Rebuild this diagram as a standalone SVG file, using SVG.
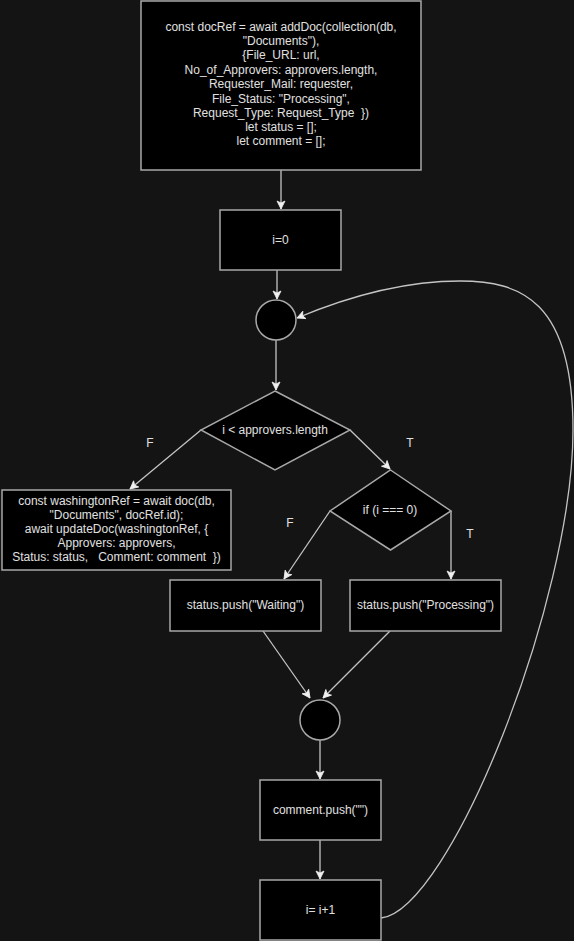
<svg xmlns="http://www.w3.org/2000/svg" width="574" height="941" viewBox="0 0 574 941">
<style>
.bg{fill:#141414}
.box{fill:#000;stroke:#a8a8a8;stroke-width:1.5}
.t{font-family:"Liberation Sans",Arial,sans-serif;font-size:12px;fill:#e0e0e0;text-anchor:middle;dominant-baseline:central}
.lbl{font-family:"Liberation Sans",Arial,sans-serif;font-size:12px;fill:#e0e0e0;text-anchor:middle;dominant-baseline:central}
.e{fill:none;stroke:#c4c4c4;stroke-width:1.3}
</style>
<defs>
<marker id="arr" markerUnits="userSpaceOnUse" markerWidth="10" markerHeight="10" viewBox="0 0 10 10" refX="9" refY="5" orient="auto">
<path d="M1,1 L9,5 L1,9 L3,5 Z" fill="#f0f0f0" stroke="#f0f0f0" stroke-width="0.8"/>
</marker>
</defs>
<rect class="bg" x="0" y="0" width="574" height="941"/>
<g id="connectors">
<path class="e" d="M281 170 L281 209" marker-end="url(#arr)"/>
<path class="e" d="M277 270 L277 299" marker-end="url(#arr)"/>
<path class="e" d="M276 340 L276 390" marker-end="url(#arr)"/>
<path class="e" d="M201 430 L130 489" marker-end="url(#arr)"/>
<path class="e" d="M350 430 L390 469" marker-end="url(#arr)"/>
<path class="e" d="M451 511 L451 579" marker-end="url(#arr)"/>
<path class="e" d="M330 511 L284 579" marker-end="url(#arr)"/>
<path class="e" d="M263 631 L310 698" marker-end="url(#arr)"/>
<path class="e" d="M390 631 L323 698" marker-end="url(#arr)"/>
<path class="e" d="M320 740 L320 779" marker-end="url(#arr)"/>
<path class="e" d="M320 840 L320 879" marker-end="url(#arr)"/>
<path class="e" d="M381 918 C 450 910, 573 600, 573 430 C 573 300, 520 281, 460 281 C 400 281, 340 300, 297 318" marker-end="url(#arr)"/>
<text class="lbl" x="150" y="443">F</text>
<text class="lbl" x="410" y="443">T</text>
<text class="lbl" x="290" y="523">F</text>
<text class="lbl" x="470" y="534">T</text>
</g>
<g id="init">
<rect class="box" x="141" y="1" width="280" height="169"/>
<text class="t" x="281" y="27">const docRef = await addDoc(collection(db,</text>
<text class="t" x="281" y="41">"Documents"),</text>
<text class="t" x="281" y="55">{File_URL: url,</text>
<text class="t" x="281" y="70">No_of_Approvers: approvers.length,</text>
<text class="t" x="281" y="84">Requester_Mail: requester,</text>
<text class="t" x="281" y="99">File_Status: "Processing",</text>
<text class="t" x="281" y="113" xml:space="preserve">Request_Type: Request_Type  })</text>
<text class="t" x="281" y="127">let status = [];</text>
<text class="t" x="281" y="141">let comment = [];</text>
</g>
<g id="i0">
<rect class="box" x="220" y="210" width="121" height="60"/>
<text class="t" x="280.5" y="240">i=0</text>
</g>
<g id="join1">
<circle class="box" cx="276" cy="320" r="20"/>
</g>
<g id="cond1">
<path class="box" d="M275 391 L350 430 L275 470 L201 430 Z"/>
<text class="t" x="275" y="430">i &lt; approvers.length</text>
</g>
<g id="update">
<rect class="box" x="2" y="490" width="229" height="80"/>
<text class="t" x="116.5" y="501">const washingtonRef = await doc(db,</text>
<text class="t" x="116.5" y="515">"Documents", docRef.id);</text>
<text class="t" x="116.5" y="529">await updateDoc(washingtonRef, {</text>
<text class="t" x="116.5" y="543">Approvers: approvers,</text>
<text class="t" x="116.5" y="557" xml:space="preserve">Status: status,   Comment: comment  })</text>
</g>
<g id="cond2">
<path class="box" d="M390.5 470 L451 511 L390.5 550 L330 511 Z"/>
<text class="t" x="390" y="510">if (i === 0)</text>
</g>
<g id="waiting">
<rect class="box" x="170" y="580" width="151" height="51"/>
<text class="t" x="245.5" y="605">status.push("Waiting")</text>
</g>
<g id="processing">
<rect class="box" x="350" y="580" width="151" height="51"/>
<text class="t" x="425.5" y="605">status.push("Processing")</text>
</g>
<g id="join2">
<circle class="box" cx="320" cy="720" r="20"/>
</g>
<g id="comment">
<rect class="box" x="260" y="780" width="121" height="60"/>
<text class="t" x="320.5" y="810">comment.push("")</text>
</g>
<g id="incr">
<rect class="box" x="260" y="880" width="121" height="60"/>
<text class="t" x="320.5" y="910">i= i+1</text>
</g>
</svg>
